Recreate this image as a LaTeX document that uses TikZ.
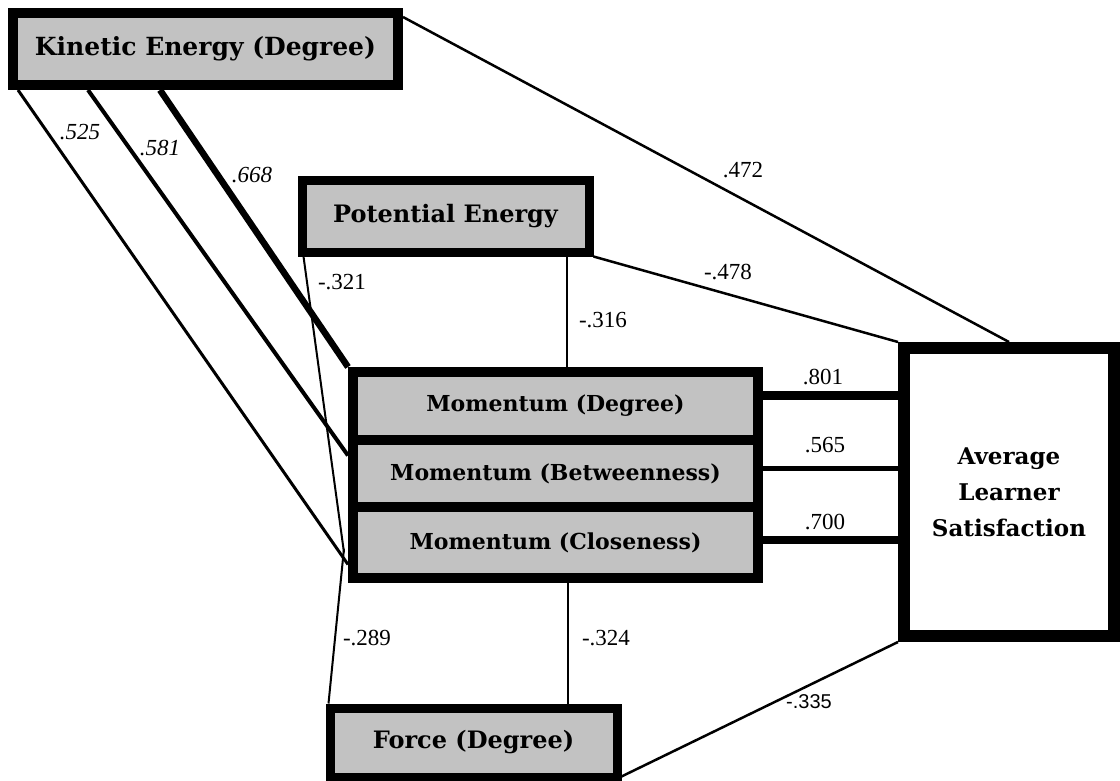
\documentclass[tikz,border=0pt]{standalone}
\usepackage{fontspec}
\newfontfamily\boxfont{DejaVu Serif}
\newfontfamily\numfont{Liberation Serif}
\newfontfamily\sansnum{Liberation Sans}
\usetikzlibrary{calc,backgrounds}
\begin{document}
\begin{tikzpicture}[x=1pt,y=-1pt,
  box/.style={draw=black, fill=black!24, rectangle, inner sep=0pt,
    font=\boxfont\bfseries\fontsize{24}{28}\selectfont, align=center},
  mbox/.style={box, line width=10pt, minimum width=405pt,
    font=\boxfont\bfseries\fontsize{22}{26}\selectfont},
  whitebox/.style={box, fill=white},
  lbl/.style={font=\numfont\fontsize{23}{26}\selectfont, inner sep=0pt},
  ilbl/.style={lbl, font=\numfont\itshape\fontsize{23}{26}\selectfont},
  slbl/.style={font=\sansnum\fontsize{20}{24}\selectfont, inner sep=0pt},
  conn/.style={draw=black, line width=2.5pt},
]
\useasboundingbox (0,0) rectangle (1120,781);

\node[box, line width=10pt, minimum width=385pt, minimum height=72pt,
  font=\boxfont\bfseries\fontsize{25}{28}\selectfont] (KE) at (205.5,49) {Kinetic Energy (Degree)};
\node[box, line width=9pt, minimum width=287pt, minimum height=71pt] (PE) at (445.5,216.5) {Potential Energy};
\node[mbox, minimum height=68pt] (M1) at (555.5,406) {Momentum (Degree)};
\node[mbox, minimum height=67pt] (M2) at (555.5,473.5) {Momentum (Betweenness)};
\node[mbox, minimum height=71pt] (M3) at (555.5,542.5) {Momentum (Closeness)};
\node[whitebox, line width=12pt, minimum width=210pt, minimum height=288pt,
  font=\boxfont\bfseries\fontsize{23}{36}\selectfont] (ALS) at (1009,492) {Average\\Learner\\Satisfaction};
\node[box, line width=9pt, minimum width=287pt, minimum height=69pt] (F) at (473.5,742.5) {Force (Degree)};

\begin{pgfonlayer}{background}
% Kinetic Energy to the momentum measures
\draw[conn, line width=3pt] ($(KE.south west)+(10,0)$) -- ($(M3.west)+(0,22)$);
\draw[conn, line width=4pt] ($(KE.south west)+(80,0)$) -- ($(M2.west)+(0,-18)$);
\draw[conn, line width=6.5pt] ($(KE.south west)+(152,0)$) -- (M1.north west);
% Kinetic Energy to satisfaction
\draw[conn] ($(KE.north east)+(0,9)$) -- (ALS.north);
% Potential Energy
\draw[conn] (PE.south east) -- (ALS.north west);
\coordinate (pe316) at ($(PE.south east)+(-27,0)$);
\draw[conn, line width=2pt] (pe316) -- (pe316 |- M1.north);
\draw[conn, line width=2pt] ($(PE.south west)+(6,0)$) -- ($(M3.west)+(-4,10)$);
% Force
\draw[conn, line width=2pt] ($(F.north west)+(3,0)$) -- ($(M3.west)+(-4,6)$);
\coordinate (m324) at ($(M3.south)+(12,0)$);
\draw[conn, line width=2pt] (m324) -- (m324 |- F.north);
\draw[conn] ($(F.south east)+(0,-5)$) -- (ALS.south west);
% Momentum to satisfaction
\coordinate (m801) at ($(M1.east)+(0,-11)$);
\draw[conn, line width=9pt] (m801) -- (m801 -| ALS.west);
\coordinate (m565) at ($(M2.east)+(0,-5)$);
\draw[conn, line width=5pt] (m565) -- (m565 -| ALS.west);
\coordinate (m700) at ($(M3.east)+(0,-3)$);
\draw[conn, line width=8pt] (m700) -- (m700 -| ALS.west);
\end{pgfonlayer}

% labels
\node[ilbl] (l525) at (80,132) {.525};
\node[ilbl] (l581) at (160,148) {.581};
\node[ilbl] (l668) at (252,175) {.668};
\node[lbl] (l472) at (743,170) {.472};
\node[lbl] (l478) at (728,272) {-.478};
\node[lbl] (l316) at (603,320) {-.316};
\node[lbl] (l321) at (342,282) {-.321};
\node[lbl] (l801) at (823,377) {.801};
\node[lbl] (l565) at (825,445) {.565};
\node[lbl] (l700) at (825,522) {.700};
\node[lbl] (l289) at (367,638) {-.289};
\node[lbl] (l324) at (606,638) {-.324};
\node[slbl] (l335) at (809,702) {-.335};
\end{tikzpicture}
\end{document}
